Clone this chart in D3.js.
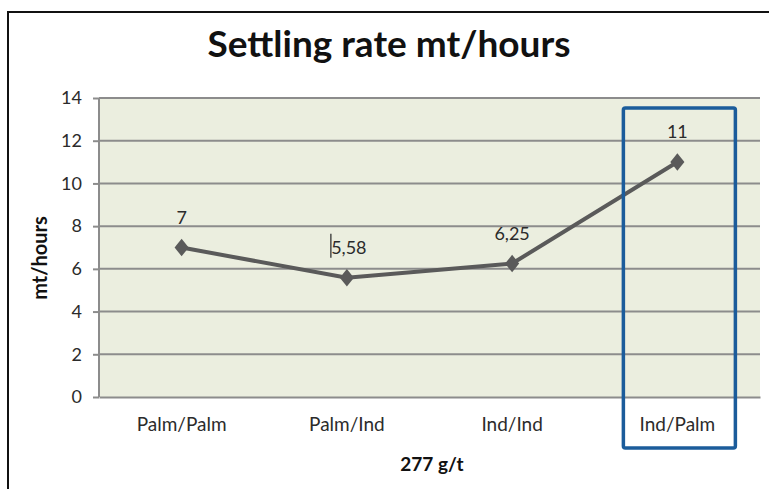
<!DOCTYPE html>
<html><head><meta charset="utf-8">
<script src="https://cdn.jsdelivr.net/npm/d3@7"></script>
<style>body{margin:0;background:#fff}svg{display:block}</style>
</head><body>
<script>
const categories = ["Palm/Palm","Palm/Ind","Ind/Ind","Ind/Palm"];
const values = [7, 5.58, 6.25, 11];
const valueLabels = ["7","5,58","6,25","11"];
const yTicks = [0,2,4,6,8,10,12,14];
const title = "Settling rate mt/hours";
const xTitle = "277 g/t";
const yTitle = "mt/hours";
const highlight = "Ind/Palm";

const W=769,H=489;
const svg=d3.select("body").append("svg").attr("width",W).attr("height",H);
const font="Lato, 'Open Sans', sans-serif";
svg.append("rect").attr("x",8).attr("y",12).attr("width",W).attr("height",H).attr("fill","#fff").attr("stroke","#111").attr("stroke-width",2);

const x=d3.scaleBand().domain(categories).range([99,760]);
const y=d3.scaleLinear().domain([0,14]).range([397,98]);

svg.append("rect").attr("x",99).attr("y",98).attr("width",661).attr("height",299).attr("fill","#EBEEDF");

svg.append("g").selectAll("line").data(yTicks.filter(d=>d>0)).join("line")
 .attr("x1",99).attr("x2",760).attr("y1",d=>y(d)).attr("y2",d=>y(d)).attr("stroke","#8c8c8c").attr("stroke-width",2);

const ya=svg.append("g").attr("transform","translate(99,0)").call(d3.axisLeft(y).tickValues(yTicks).tickSize(6).tickPadding(11));
ya.select(".domain").attr("stroke","#8c8c8c").attr("stroke-width",2).attr("d","M0,98V397");
ya.selectAll(".tick line").attr("stroke","#8c8c8c").attr("stroke-width",2);
ya.selectAll("text").attr("font-family",font).attr("font-size",18).attr("fill","#2b2b2b");

const xa=svg.append("g").attr("transform","translate(0,397)").call(d3.axisBottom(x).tickSize(0).tickPadding(21));
xa.select(".domain").attr("stroke","#8c8c8c").attr("stroke-width",2);
xa.selectAll("text").attr("font-family",font).attr("font-size",19).attr("fill","#2b2b2b");

const cx=d=>x(d)+x.bandwidth()/2;
svg.append("path").datum(values).attr("fill","none").attr("stroke","#5a5a5a").attr("stroke-width",4)
 .attr("d",d3.line().x((d,i)=>cx(categories[i])).y(d=>y(d)));
svg.append("g").selectAll("path").data(values).join("path")
 .attr("d",d3.symbol(d3.symbolDiamond,110)).attr("fill","#5a5a5a")
 .attr("transform",(d,i)=>`translate(${cx(categories[i])},${y(d)}) scale(1.25,0.9)`);
svg.append("g").selectAll("text").data(values).join("text")
 .attr("x",(d,i)=>cx(categories[i])+(i===1?2:0)).attr("y",d=>y(d)-24)
 .attr("text-anchor","middle").attr("font-family",font).attr("font-size",18).attr("fill","#2b2b2b")
 .text((d,i)=>valueLabels[i]);
svg.append("line").attr("x1",cx(categories[1])-16).attr("x2",cx(categories[1])-16)
 .attr("y1",y(values[1])-44).attr("y2",y(values[1])-20).attr("stroke","#333").attr("stroke-width",1.3);

const hb=x(highlight);
svg.append("rect").attr("x",hb+x.bandwidth()/2-54).attr("y",108).attr("width",112).attr("height",340).attr("rx",2)
 .attr("fill","none").attr("stroke","#1B5C9B").attr("stroke-width",3.5);

svg.append("text").attr("x",389).attr("y",57).attr("text-anchor","middle").attr("font-family",font)
 .attr("font-weight","bold").attr("font-size",37).attr("fill","#111").text(title);
svg.append("text").attr("x",432).attr("y",471).attr("text-anchor","middle").attr("font-family",font)
 .attr("font-weight","bold").attr("font-size",19).attr("fill","#111").text(xTitle);
svg.append("text").attr("transform","translate(47,258) rotate(-90)").attr("text-anchor","middle").attr("font-family",font)
 .attr("font-weight","bold").attr("font-size",20).attr("fill","#111").text(yTitle);
</script>
</body></html>
